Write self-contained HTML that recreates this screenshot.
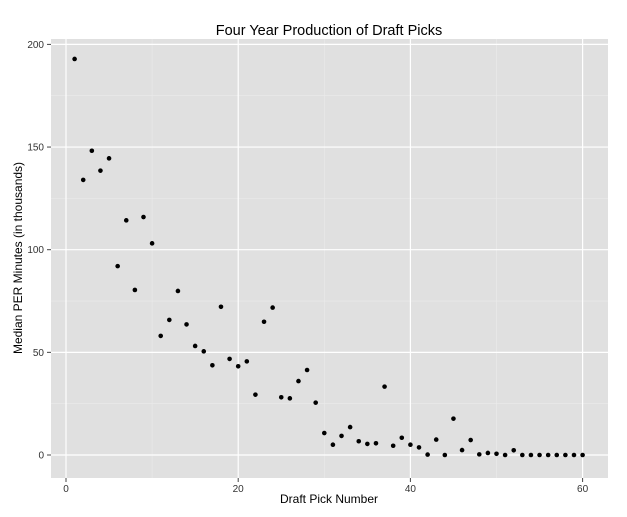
<!DOCTYPE html>
<html><head><meta charset="utf-8"><style>
body{margin:0;background:#fff;}
svg{display:block;font-family:"Liberation Sans",sans-serif;}
</style></head><body>
<svg id="chart" width="627" height="517">
<text x="329" y="35" text-anchor="middle" font-size="14.5" fill="#000">Four Year Production of Draft Picks</text>
<rect x="51" y="39" width="557" height="439" fill="#e0e0e0"/>
<g id="grid"></g><g id="ticks"></g><g id="points"></g>
<text x="329" y="503" text-anchor="middle" font-size="12" fill="#000">Draft Pick Number</text>
<text transform="translate(22,258) rotate(-90)" text-anchor="middle" font-size="12" fill="#000">Median PER Minutes (in thousands)</text>
</svg>
<script>
const picks=[];for(let i=1;i<=60;i++)picks.push(i);
const values=[192.9,134,148.2,138.5,144.5,92,114.3,80.4,115.9,103.1,58,65.8,79.9,63.6,53.1,50.5,43.7,72.2,46.8,43.2,45.6,29.4,64.9,71.8,28.1,27.6,36.0,41.4,25.5,10.7,5.0,9.3,13.6,6.7,5.4,5.7,33.3,4.5,8.4,5.0,3.7,0.2,7.5,0,17.7,2.4,7.3,0.3,1.0,0.6,0,2.3,0,0,0,0,0,0,0,0];
const xTicks=[0,20,40,60];
const yTicks=[0,50,100,150,200];
const xMinor=[10,30,50];
const yMinor=[25,75,125,175];
const X=v=>66+v*8.61;
const Y=v=>455-v*2.053;
const ns="http://www.w3.org/2000/svg";
function mk(tag,attrs,parent){const e=document.createElementNS(ns,tag);for(const k in attrs)e.setAttribute(k,attrs[k]);document.getElementById(parent).appendChild(e);return e;}
xMinor.forEach(v=>{const e=mk('line',{x1:X(v),x2:X(v),y1:39,y2:478,stroke:'#ebebeb','stroke-width':0.6},'grid');

});
yMinor.forEach(v=>{const e=mk('line',{x1:51,x2:608,y1:Y(v),y2:Y(v),stroke:'#ebebeb','stroke-width':0.6},'grid');

});
xTicks.forEach(v=>{const e=mk('line',{x1:X(v),x2:X(v),y1:39,y2:478,stroke:'#fff','stroke-width':1.2},'grid');


const t=mk('line',{x1:X(v),x2:X(v),y1:478,y2:482,stroke:'#444'},'ticks');


const l=mk('text',{x:X(v),y:492,'text-anchor':'middle','font-size':10,fill:'#333'},'ticks');l.textContent=v;

});
yTicks.forEach(v=>{const e=mk('line',{x1:51,x2:608,y1:Y(v),y2:Y(v),stroke:'#fff','stroke-width':1.2},'grid');


const t=mk('line',{x1:47,x2:51,y1:Y(v),y2:Y(v),stroke:'#444'},'ticks');


const l=mk('text',{x:44,y:Y(v)+3.5,'text-anchor':'end','font-size':10,fill:'#333'},'ticks');l.textContent=v;

});
picks.forEach((p,i)=>{const c=mk('circle',{cx:X(p),cy:Y(values[i]),r:2.3,fill:'#000'},'points');

});
</script>
</body></html>
